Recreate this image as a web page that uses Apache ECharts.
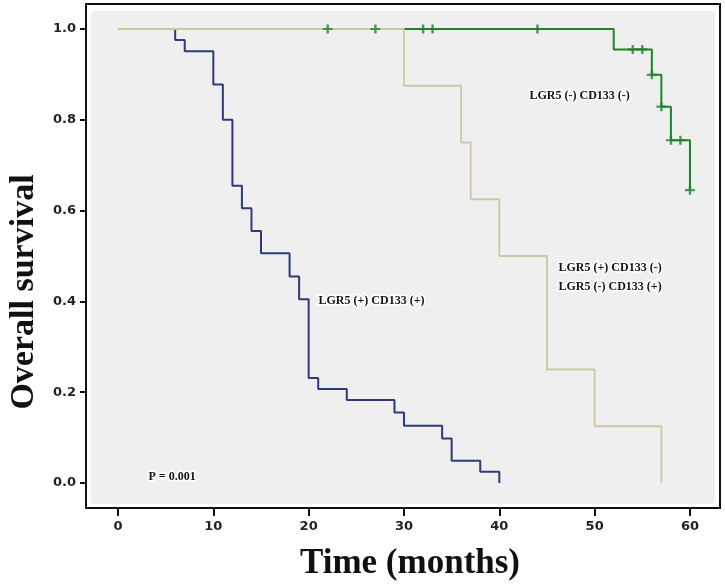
<!DOCTYPE html>
<html>
<head>
<meta charset="utf-8">
<script src="https://cdn.jsdelivr.net/npm/echarts@6/dist/echarts.min.js"></script>
<style>
html,body{margin:0;padding:0;background:#fff;}
#chart{width:725px;height:588px;}
</style>
</head>
<body>
<div id="chart"></div>
<script>
// ---- data ----
const xTicks = [0, 10, 20, 30, 40, 50, 60];
const yTicks = [0.0, 0.2, 0.4, 0.6, 0.8, 1.0];

// LGR5 (+) CD133 (+)
const blueTimes = [0, 6, 7, 10, 11, 12, 13, 14, 15, 18, 19, 20, 21, 24, 29, 30, 34, 35, 38, 40];
const blueSurv  = [1, 0.976, 0.951, 0.878, 0.80, 0.655, 0.605, 0.555, 0.506, 0.455, 0.405, 0.231, 0.207, 0.183, 0.155, 0.126, 0.098, 0.049, 0.025, 0];

// LGR5 (+) CD133 (-) / LGR5 (-) CD133 (+)
const tanTimes = [0, 30, 36, 37, 40, 45, 50, 57];
const tanSurv  = [1, 0.875, 0.75, 0.625, 0.5, 0.25, 0.125, 0];

// LGR5 (-) CD133 (-)
const greenTimes = [0, 52, 56, 57, 58, 60];
const greenSurv  = [1, 0.955, 0.899, 0.829, 0.755, 0.645];
const greenCensorTimes = [22, 27, 32, 33, 44, 54, 55, 56, 57, 58, 59, 60];
const greenCensorSurv  = [1, 1, 1, 1, 1, 0.955, 0.955, 0.899, 0.829, 0.755, 0.755, 0.645];

const zip = (a, b) => a.map((v, i) => [v, b[i]]);

const plusPath = 'path://M0,3.8L10,3.8L10,6.2L0,6.2Z M3.8,0L6.2,0L6.2,10L3.8,10Z';
const serifBold = {fontFamily: 'Liberation Serif', fontWeight: 'bold', fontSize: 12, fill: '#111', stroke: '#fff', lineWidth: 3};

const chart = echarts.init(document.getElementById('chart'));
chart.setOption({
  animation: false,
  backgroundColor: '#fff',
  grid: {left: 86, right: 5, top: 4, bottom: 80, show: true, borderColor: '#111', borderWidth: 2, backgroundColor: 'transparent'},
  xAxis: {
    type: 'value', min: -3.357, max: 63.15,
    splitLine: {show: false},
    axisLine: {show: true, onZero: false, lineStyle: {color: '#111', width: 2}},
    axisTick: {show: true, customValues: xTicks, length: 8, lineStyle: {color: '#111', width: 2}},
    axisLabel: {customValues: xTicks, margin: 12, color: '#222', fontFamily: 'DejaVu Sans', fontWeight: 'bold', fontSize: 13},
    name: 'Time (months)', nameLocation: 'middle', nameGap: 38,
    nameTextStyle: {fontFamily: 'Liberation Serif', fontWeight: 'bold', fontSize: 35, color: '#111', padding: [0, 0, 0, 14]}
  },
  yAxis: {
    type: 'value', min: -0.0551, max: 1.0551,
    splitLine: {show: false},
    axisLine: {show: true, onZero: false, lineStyle: {color: '#111', width: 2}},
    axisTick: {show: true, customValues: yTicks, length: 6, lineStyle: {color: '#111', width: 2}},
    axisLabel: {customValues: yTicks, margin: 10, color: '#222', fontFamily: 'DejaVu Sans', fontWeight: 'bold', fontSize: 13,
      formatter: v => v.toFixed(1)}
  },
  graphic: [
    {type: 'rect', z: -10, shape: {x: 91, y: 11, width: 624, height: 493, r: 4}, style: {fill: '#efefef'}},
    {type: 'text', x: 24, y: 292, rotation: Math.PI / 2,
      style: {text: 'Overall survival', fontFamily: 'Liberation Serif', fontWeight: 'bold', fontSize: 34, fill: '#111',
        align: 'center', verticalAlign: 'middle'}},
    {type: 'text', left: 317, top: 293, style: Object.assign({text: 'LGR5 (+) CD133 (+)'}, serifBold)},
    {type: 'text', left: 528, top: 88, style: Object.assign({text: 'LGR5 (-) CD133 (-)'}, serifBold)},
    {type: 'text', left: 557, top: 258, style: Object.assign({text: 'LGR5 (+) CD133 (-)\nLGR5 (-) CD133 (+)', lineHeight: 19}, serifBold)},
    {type: 'text', left: 147, top: 469, style: Object.assign({text: 'P = 0.001'}, serifBold)}
  ],
  series: [
    {type: 'line', step: 'end', data: zip(greenTimes, greenSurv), showSymbol: false, lineStyle: {color: '#1c842a', width: 2}, z: 2},
    {type: 'line', step: 'end', data: zip(blueTimes, blueSurv), showSymbol: false, lineStyle: {color: '#2f3b78', width: 2}, z: 3},
    {type: 'line', step: 'end', data: zip(tanTimes, tanSurv), showSymbol: false, lineStyle: {color: '#cbc6a4', width: 1.8}, z: 4},
    {type: 'scatter', data: zip(greenCensorTimes, greenCensorSurv), symbol: plusPath, symbolSize: [10, 9],
      itemStyle: {color: '#1c842a'}, z: 5}
  ]
});
</script>
</body>
</html>
